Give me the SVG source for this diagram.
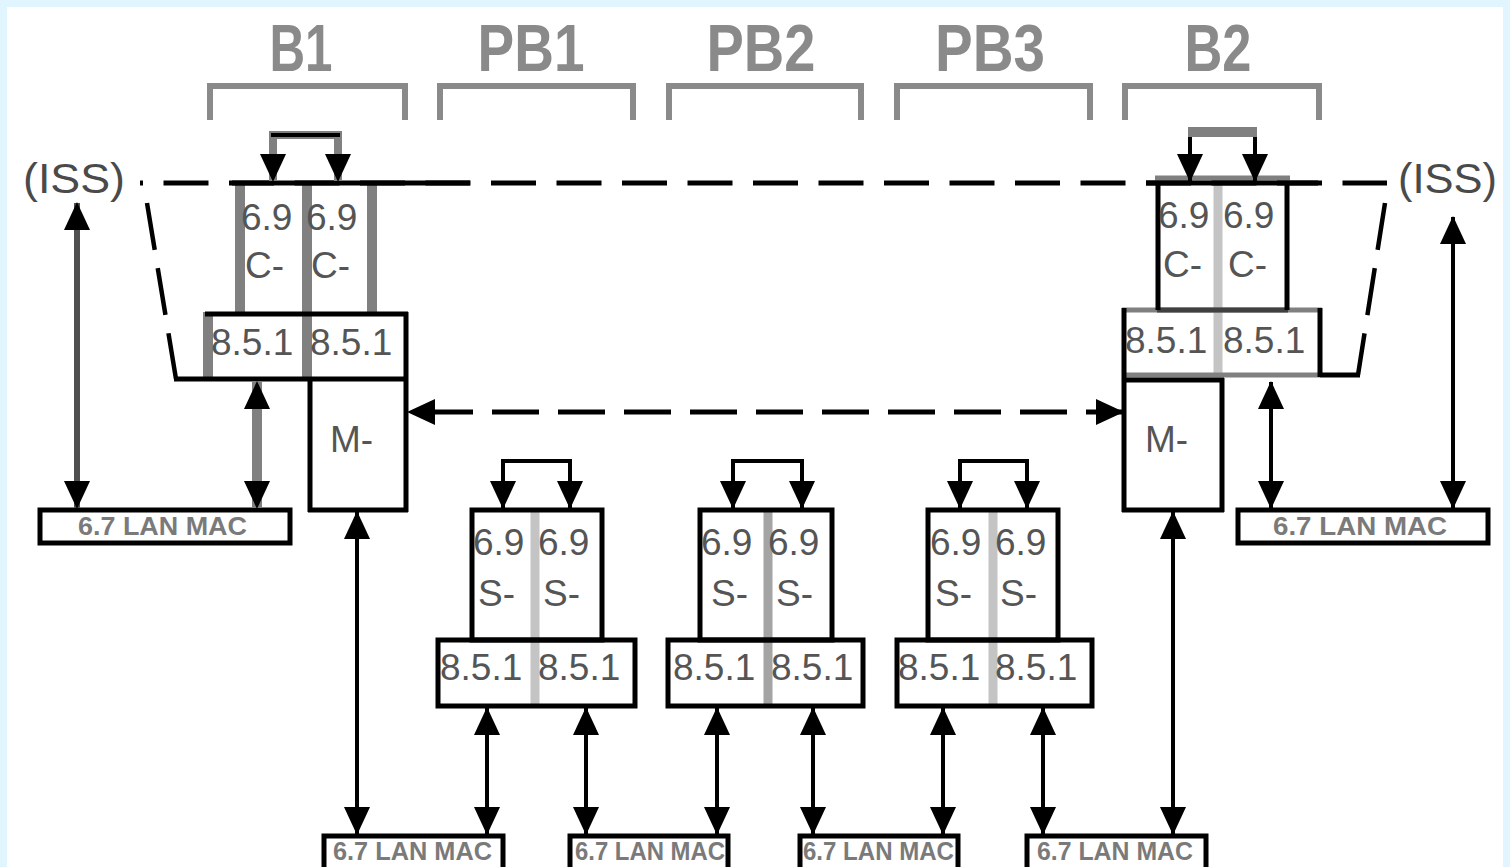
<svg xmlns="http://www.w3.org/2000/svg" width="1510" height="867" viewBox="0 0 1510 867">
<defs>
<style>
.k{stroke:#000;stroke-width:5;fill:none}
.k4{stroke:#000;stroke-width:4;fill:none}
.g{stroke:#808080;stroke-width:10;fill:none}
.lg{stroke:#c4c4c4;stroke-width:9;fill:none}
.br{stroke:#8a8a8a;stroke-width:6;fill:none}
.a{stroke:#000;stroke-width:4;fill:none;marker-start:url(#ah);marker-end:url(#ah)}
.dash{stroke:#000;stroke-width:5;fill:none;stroke-dasharray:45 20.5}
.sl{stroke:#000;stroke-width:4.5;fill:none;stroke-dasharray:47.5 18.5}
text{font-family:"Liberation Sans",Arial,sans-serif}
.t{font-weight:bold;font-size:66px;fill:#8a8a8a;text-anchor:middle}
.l{font-size:37px;fill:#555}
.m{font-size:26px;font-weight:bold;fill:#7a7a7a}
.i{font-size:42px;fill:#4a4a4a}
</style>
<marker id="ah" viewBox="0 0 28 26" refX="27" refY="13" markerWidth="28" markerHeight="26" markerUnits="userSpaceOnUse" orient="auto-start-reverse"><path d="M0,0 L28,13 L0,26 Z" fill="#000"/></marker>
</defs>
<rect x="0" y="0" width="1510" height="867" fill="#e1f5fe"/>
<rect x="7" y="7" width="1496" height="870" fill="#fff"/>

<g id="labels">
<text class="t" x="301" y="71" textLength="63" lengthAdjust="spacingAndGlyphs">B1</text>
<text class="t" x="531" y="71" textLength="107" lengthAdjust="spacingAndGlyphs">PB1</text>
<text class="t" x="761" y="71" textLength="109" lengthAdjust="spacingAndGlyphs">PB2</text>
<text class="t" x="990" y="71" textLength="110" lengthAdjust="spacingAndGlyphs">PB3</text>
<text class="t" x="1218" y="71" textLength="67" lengthAdjust="spacingAndGlyphs">B2</text>
<path class="br" d="M210,120 V86 H405 V120"/>
<path class="br" d="M440,120 V86 H633 V120"/>
<path class="br" d="M669,120 V86 H861 V120"/>
<path class="br" d="M897,120 V86 H1090 V120"/>
<path class="br" d="M1125,120 V86 H1319 V120"/>
<text class="i" x="23" y="193" textLength="102" lengthAdjust="spacingAndGlyphs">(ISS)</text>
<text class="i" x="1398" y="193" textLength="99" lengthAdjust="spacingAndGlyphs">(ISS)</text>
</g>

<g id="B1">
<path class="g" d="M240,185 V312 M307,185 V379 M372,185 V312 M208,312 V379"/>
<path class="k" d="M205,314 H408 M406,312 V512 M310,379 V512 M308,510 H408"/>
<text class="l" x="241" y="230">6.9</text>
<text class="l" x="306" y="230">6.9</text>
<text class="l" x="245" y="278">C-</text>
<text class="l" x="311" y="278">C-</text>
<text class="l" x="211" y="355">8.5.1</text>
<text class="l" x="310" y="355">8.5.1</text>
<text class="l" x="330" y="452">M-</text>
</g>

<g id="B1-lan">
<rect class="k" x="40" y="510" width="250" height="33"/>
<text class="m" x="78" y="535" textLength="169" lengthAdjust="spacingAndGlyphs">6.7 LAN MAC</text>
</g>

<g id="PB1">
<path class="lg" d="M535,512 V704"/>
<rect class="k" x="472" y="510" width="130" height="130"/>
<rect class="k" x="438" y="640" width="197" height="66"/>
<text class="l" x="473" y="555">6.9</text>
<text class="l" x="538" y="555">6.9</text>
<text class="l" x="478" y="606">S-</text>
<text class="l" x="543" y="606">S-</text>
<text class="l" x="440" y="680">8.5.1</text>
<text class="l" x="538" y="680">8.5.1</text>
</g>

<g id="PB2">
<path class="lg" style="stroke:#a4a4a4" d="M768,512 V704"/>
<rect class="k" x="700" y="510" width="132" height="130"/>
<rect class="k" x="668" y="640" width="195" height="66"/>
<text class="l" x="701" y="555">6.9</text>
<text class="l" x="768" y="555">6.9</text>
<text class="l" x="711" y="606">S-</text>
<text class="l" x="776" y="606">S-</text>
<text class="l" x="673" y="680">8.5.1</text>
<text class="l" x="771" y="680">8.5.1</text>
</g>

<g id="PB3">
<path class="lg" d="M993,512 V704"/>
<rect class="k" x="928" y="510" width="130" height="130"/>
<rect class="k" x="897" y="640" width="195" height="66"/>
<text class="l" x="930" y="555">6.9</text>
<text class="l" x="995" y="555">6.9</text>
<text class="l" x="935" y="606">S-</text>
<text class="l" x="1000" y="606">S-</text>
<text class="l" x="898" y="680">8.5.1</text>
<text class="l" x="995" y="680">8.5.1</text>
</g>

<g id="B2">
<path class="lg" d="M1218,185 V375"/>
<path stroke="#808080" stroke-width="5" fill="none" d="M1155,178 H1290 M1122,310 H1322 M1124,375 H1320"/>
<path stroke="#404040" stroke-width="5" fill="none" d="M1157,310 H1288"/>
<path class="k" d="M1158,183 V310 M1287,183 V310 M1124,308 V512 M1320,308 V377 M1122,380 H1224 M1222,378 V512 M1122,510 H1224"/>
<text class="l" x="1158" y="228">6.9</text>
<text class="l" x="1223" y="228">6.9</text>
<text class="l" x="1163" y="277">C-</text>
<text class="l" x="1228" y="277">C-</text>
<text class="l" x="1125" y="353">8.5.1</text>
<text class="l" x="1223" y="353">8.5.1</text>
<text class="l" x="1145" y="452">M-</text>
</g>

<g id="B2-lan">
<rect class="k" x="1238" y="510" width="250" height="33"/>
<text class="m" x="1273" y="535" textLength="174" lengthAdjust="spacingAndGlyphs">6.7 LAN MAC</text>
</g>

<g id="lan1">
<rect class="k" x="324" y="836" width="179" height="45"/>
<text class="m" x="333" y="860" textLength="159" lengthAdjust="spacingAndGlyphs">6.7 LAN MAC</text>
</g>
<g id="lan2">
<rect class="k" x="570" y="836" width="158" height="45"/>
<text class="m" x="575" y="860" textLength="150" lengthAdjust="spacingAndGlyphs">6.7 LAN MAC</text>
</g>
<g id="lan3">
<rect class="k" x="800" y="836" width="158" height="45"/>
<text class="m" x="803" y="860" textLength="151" lengthAdjust="spacingAndGlyphs">6.7 LAN MAC</text>
</g>
<g id="lan4">
<rect class="k" x="1027" y="836" width="179" height="45"/>
<text class="m" x="1037" y="860" textLength="156" lengthAdjust="spacingAndGlyphs">6.7 LAN MAC</text>
</g>

<g id="connectors">
<path class="dash" d="M140,183 H1387" stroke-dashoffset="42"/>
<path class="k" d="M232,183 H470 M1146,183 H1318"/>
<path class="sl" d="M147,203 L176,379"/>
<path class="k" d="M174,379 H408"/>
<path class="sl" d="M1385,203 L1358,375"/>
<path class="k" d="M1320,375 H1360"/>
<path class="a" style="stroke-width:5;stroke-dasharray:47 19;stroke-dashoffset:48" d="M408,412 H1123"/>
<path class="a" style="stroke:#808080;stroke-width:8;marker-end:none" d="M273,181 V135 H338 V181"/>
<path class="k4" d="M271,135 H340"/>
<path stroke="none" fill="none" style="marker-end:url(#ah)" d="M338,160 V181"/>
<path class="a" d="M503,508 V461 H570 V508"/>
<path class="a" d="M733,508 V461 H802 V508"/>
<path class="a" d="M960,508 V461 H1027 V508"/>
<path class="a" d="M1190,181 V132 H1255 V181"/>
<path stroke="#808080" stroke-width="10" fill="none" d="M1188,132 H1257"/>
<path class="a" style="stroke:#505050;stroke-width:6" d="M77,203 V508"/>
<path class="a" style="stroke:#808080;stroke-width:10" d="M257,382 V508"/>
<path class="a" d="M357,512 V834"/>
<path class="a" d="M487,708 V834"/>
<path class="a" d="M586,708 V834"/>
<path class="a" d="M717,708 V834"/>
<path class="a" d="M813,708 V834"/>
<path class="a" d="M943,708 V834"/>
<path class="a" d="M1043,708 V834"/>
<path class="a" d="M1173,512 V834"/>
<path class="a" d="M1271,382 V508"/>
<path class="a" d="M1453,217 V508"/>
</g>
</svg>
